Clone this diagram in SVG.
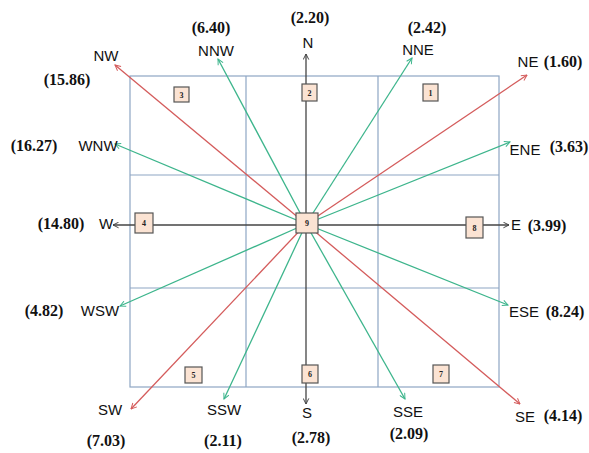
<svg xmlns="http://www.w3.org/2000/svg" width="589" height="453" viewBox="0 0 589 453">
<style>
.grid{fill:none;stroke:#8ea6c4;stroke-width:1.2}
.red{stroke:#d45c5c;stroke-width:1.3;fill:none}
.grn{stroke:#3db58c;stroke-width:1.3;fill:none}
.blk{stroke:#444;stroke-width:1.3;fill:none}
.box{fill:#fbe3d3;stroke:#555;stroke-width:1.2}
.bn{font-family:"Liberation Serif",serif;font-weight:bold;font-size:8px;fill:#222;text-anchor:middle}
.lb{font-family:"Liberation Sans",sans-serif;font-size:15px;fill:#111;text-anchor:middle}
.nm{font-family:"Liberation Serif",serif;font-weight:bold;font-size:16px;fill:#111;text-anchor:middle}
</style>
<defs>
<marker id="ar" viewBox="0 0 10 10" refX="9" refY="5" markerWidth="7" markerHeight="7" markerUnits="userSpaceOnUse" orient="auto"><path d="M1,1 L9,5 L1,9" fill="none" stroke="#d45c5c" stroke-width="1.4"/></marker>
<marker id="ag" viewBox="0 0 10 10" refX="9" refY="5" markerWidth="7" markerHeight="7" markerUnits="userSpaceOnUse" orient="auto"><path d="M1,1 L9,5 L1,9" fill="none" stroke="#3db58c" stroke-width="1.4"/></marker>
<marker id="ab" viewBox="0 0 10 10" refX="9" refY="5" markerWidth="7" markerHeight="7" markerUnits="userSpaceOnUse" orient="auto"><path d="M1,1 L9,5 L1,9" fill="none" stroke="#444" stroke-width="1.4"/></marker>
</defs>
<g id="grid">
<rect class="grid" x="130" y="76" width="369" height="311"/>
<line class="grid" x1="246" y1="76" x2="246" y2="387"/>
<line class="grid" x1="378" y1="76" x2="378" y2="387"/>
<line class="grid" x1="130" y1="175" x2="499" y2="175"/>
<line class="grid" x1="130" y1="288" x2="499" y2="288"/>
</g>
<g id="connectors">
<line class="blk" x1="306" y1="224" x2="306" y2="54" marker-end="url(#ab)"/>
<line class="blk" x1="306" y1="224" x2="306" y2="404" marker-end="url(#ab)"/>
<line class="blk" x1="306" y1="225" x2="113" y2="225" marker-end="url(#ab)"/>
<line class="blk" x1="306" y1="225" x2="509" y2="225" marker-end="url(#ab)"/>
<line class="red" x1="306" y1="224" x2="115" y2="65" marker-end="url(#ar)"/>
<line class="red" x1="306" y1="224" x2="527" y2="75" marker-end="url(#ar)"/>
<line class="red" x1="306" y1="224" x2="520" y2="404" marker-end="url(#ar)"/>
<line class="red" x1="306" y1="224" x2="131" y2="409" marker-end="url(#ar)"/>
<line class="grn" x1="306" y1="224" x2="218" y2="59" marker-end="url(#ag)"/>
<line class="grn" x1="306" y1="224" x2="412" y2="58" marker-end="url(#ag)"/>
<line class="grn" x1="306" y1="224" x2="510" y2="142" marker-end="url(#ag)"/>
<line class="grn" x1="306" y1="224" x2="508" y2="305" marker-end="url(#ag)"/>
<line class="grn" x1="306" y1="224" x2="405" y2="399" marker-end="url(#ag)"/>
<line class="grn" x1="306" y1="224" x2="224" y2="399" marker-end="url(#ag)"/>
<line class="grn" x1="306" y1="224" x2="120" y2="306" marker-end="url(#ag)"/>
<line class="grn" x1="306" y1="224" x2="115" y2="144" marker-end="url(#ag)"/>
</g>
<g id="box1"><rect class="box" x="423" y="84" width="15" height="17"/><text class="bn" x="430.5" y="95.5">1</text></g>
<g id="box2"><rect class="box" x="302" y="84" width="15" height="17"/><text class="bn" x="309.5" y="95.5">2</text></g>
<g id="box3"><rect class="box" x="174" y="87" width="15" height="15"/><text class="bn" x="181.5" y="97.5">3</text></g>
<g id="box4"><rect class="box" x="135" y="213" width="18" height="20"/><text class="bn" x="144" y="226">4</text></g>
<g id="box5"><rect class="box" x="185" y="367" width="17" height="16"/><text class="bn" x="193.5" y="378">5</text></g>
<g id="box6"><rect class="box" x="302" y="365" width="16" height="18"/><text class="bn" x="310" y="377">6</text></g>
<g id="box7"><rect class="box" x="433" y="365" width="16" height="18"/><text class="bn" x="441" y="377">7</text></g>
<g id="box8"><rect class="box" x="466" y="217" width="17" height="21"/><text class="bn" x="474.5" y="230.5">8</text></g>
<g id="box9"><rect class="box" x="296" y="213" width="22" height="20"/><text class="bn" x="307" y="226">9</text></g>
<g id="labels">
<text class="lb" x="106" y="61">NW</text>
<text class="nm" x="67" y="85">(15.86)</text>
<text class="nm" x="211" y="33">(6.40)</text>
<text class="lb" x="216" y="56">NNW</text>
<text class="nm" x="310" y="23">(2.20)</text>
<text class="lb" x="308" y="48">N</text>
<text class="nm" x="427" y="33">(2.42)</text>
<text class="lb" x="418" y="55">NNE</text>
<text class="lb" x="528" y="67">NE</text>
<text class="nm" x="563" y="67">(1.60)</text>
<text class="nm" x="34" y="151">(16.27)</text>
<text class="lb" x="98" y="151">WNW</text>
<text class="lb" x="525" y="155">ENE</text>
<text class="nm" x="569" y="152">(3.63)</text>
<text class="nm" x="61" y="229">(14.80)</text>
<text class="lb" x="106" y="229">W</text>
<text class="lb" x="516" y="230">E</text>
<text class="nm" x="547" y="231">(3.99)</text>
<text class="nm" x="44" y="316">(4.82)</text>
<text class="lb" x="100" y="316">WSW</text>
<text class="lb" x="524" y="317">ESE</text>
<text class="nm" x="565" y="317">(8.24)</text>
<text class="lb" x="110" y="415">SW</text>
<text class="nm" x="106" y="446">(7.03)</text>
<text class="lb" x="224" y="415">SSW</text>
<text class="nm" x="223" y="446">(2.11)</text>
<text class="lb" x="307" y="418">S</text>
<text class="nm" x="311" y="443">(2.78)</text>
<text class="lb" x="408" y="417">SSE</text>
<text class="nm" x="409" y="439">(2.09)</text>
<text class="lb" x="525" y="422">SE</text>
<text class="nm" x="563" y="421">(4.14)</text>
</g>
</svg>
